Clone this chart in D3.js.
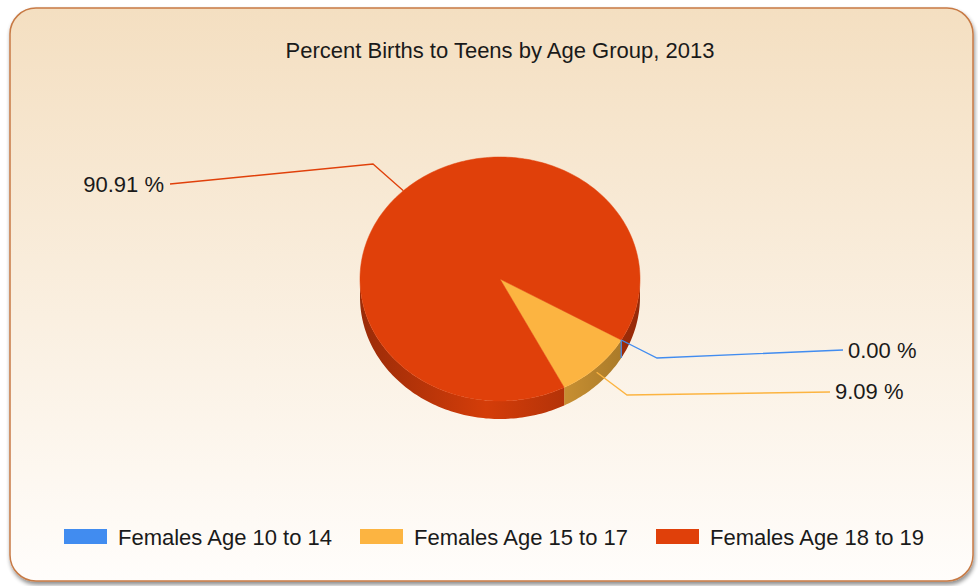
<!DOCTYPE html>
<html>
<head>
<meta charset="utf-8">
<script src="https://cdn.jsdelivr.net/npm/d3@7"></script>
<style>
  body { margin: 0; background: #fff; }
  text { font-family: "Liberation Sans", Arial, sans-serif; fill: #1a1a1a; }
</style>
</head>
<body>
<svg width="978" height="586"></svg>
<script>
// data
const categories = ["Females Age 10 to 14", "Females Age 15 to 17", "Females Age 18 to 19"];
const values = [0.00, 9.09, 90.91];
const labels = ["0.00 %", "9.09 %", "90.91 %"];
const colors = ["#418cf0", "#fcb441", "#e0400a"];
const sideColors = ["#2f6cc0", "#c8902f", "#b8330a"];

const svg = d3.select("svg");
const title = "Percent Births to Teens by Age Group, 2013";

// pie geometry
const cx = 500, cy = 279, rx = 140, ry = 122, depth = 18;
const startAngle = 120 * Math.PI / 180; // d3 angle (clockwise from 12 o'clock)

// label layout: elbow point and label anchor for each slice
const labelLayout = [
  {elbow: [657, 358], end: [843, 350], tx: 848, anchor: "start", dy: 8},
  {elbow: [627, 395], end: [830, 392], tx: 835, anchor: "start", dy: 7},
  {elbow: [373, 164], end: [170, 184], tx: 164, anchor: "end", dy: 8}
];

const defs = svg.append("defs");

// background gradient
const bg = defs.append("linearGradient").attr("id", "bg")
  .attr("x1", 0).attr("y1", 0).attr("x2", 0).attr("y2", 1);
bg.append("stop").attr("offset", "0%").attr("stop-color", "#f4dfc1");
bg.append("stop").attr("offset", "100%").attr("stop-color", "#fffdfb");

const shadow = defs.append("filter").attr("id", "shadow")
  .attr("x", "-5%").attr("y", "-5%").attr("width", "110%").attr("height", "110%");
shadow.append("feGaussianBlur").attr("in", "SourceAlpha").attr("stdDeviation", 2);
shadow.append("feOffset").attr("dx", 1).attr("dy", 3).attr("result", "b");
shadow.append("feComponentTransfer").append("feFuncA").attr("type", "linear").attr("slope", 0.45);
const merge = shadow.append("feMerge");
merge.append("feMergeNode");
merge.append("feMergeNode").attr("in", "SourceGraphic");

// side gradients per slice
sideColors.forEach((c, i) => {
  const g = defs.append("linearGradient").attr("id", "side" + i)
    .attr("gradientUnits", "userSpaceOnUse")
    .attr("x1", cx - rx).attr("y1", 0).attr("x2", cx + rx).attr("y2", 0);
  g.append("stop").attr("offset", "0%").attr("stop-color", d3.color(c).darker(0.5));
  g.append("stop").attr("offset", "45%").attr("stop-color", d3.color(colors[i]).darker(0.15));
  g.append("stop").attr("offset", "100%").attr("stop-color", d3.color(c).darker(0.6));
});

// frame
svg.append("rect")
  .attr("x", 10).attr("y", 8).attr("width", 963).attr("height", 573)
  .attr("rx", 26).attr("ry", 26)
  .attr("fill", "url(#bg)")
  .attr("stroke", "#c77a45").attr("stroke-width", 1.5)
  .attr("filter", "url(#shadow)");

svg.append("text")
  .attr("x", 500).attr("y", 58)
  .attr("text-anchor", "middle")
  .style("font-size", "22px")
  .text(title);

const pie = d3.pie().sort(null).value(d => d)
  .startAngle(startAngle).endAngle(startAngle + 2 * Math.PI);
const arcs = pie(values);

const px = a => cx + rx * Math.sin(a);
const py = a => cy - ry * Math.cos(a);

function ellipseArc(a0, a1, dy) {
  // sampled elliptical arc from a0 to a1
  const n = Math.max(2, Math.ceil(Math.abs(a1 - a0) / 0.02));
  return d3.range(n + 1).map(k => {
    const a = a0 + (a1 - a0) * k / n;
    return [px(a), py(a) + dy];
  });
}

const line = d3.line();

// sides: front half of the ellipse is d3 angles 90..270 deg
const front0 = Math.PI / 2, front1 = 3 * Math.PI / 2;
arcs.forEach((d, i) => {
  const segs = [];
  [0, 2 * Math.PI].forEach(off => {
    const a0 = Math.max(d.startAngle, front0 + off);
    const a1 = Math.min(d.endAngle, front1 + off);
    if (a1 > a0) segs.push([a0, a1]);
  });
  segs.forEach(([a0, a1]) => {
    const top = ellipseArc(a0, a1, 0);
    const bottom = ellipseArc(a1, a0, depth);
    svg.append("path")
      .attr("d", line(top.concat(bottom)) + "Z")
      .attr("fill", "url(#side" + i + ")");
  });
});

// top faces
arcs.forEach((d, i) => {
  if (d.endAngle - d.startAngle <= 0) return;
  const pts = [[cx, cy]].concat(ellipseArc(d.startAngle, d.endAngle, 0));
  svg.append("path")
    .attr("d", line(pts) + "Z")
    .attr("fill", colors[i])
    .attr("stroke", colors[i]).attr("stroke-width", 0.5);
});

// zero-width blue slice edge
arcs.forEach((d, i) => {
  if (d.endAngle - d.startAngle > 0) return;
  const a = d.startAngle;
  svg.append("line")
    .attr("x1", px(a)).attr("y1", py(a))
    .attr("x2", px(a)).attr("y2", py(a) + depth)
    .attr("stroke", colors[i]).attr("stroke-width", 1.2);
});

// leader lines and labels
arcs.forEach((d, i) => {
  const mid = (d.startAngle + d.endAngle) / 2;
  const L = labelLayout[i];
  let sx = px(mid), sy = py(mid);
  if (i === 1) sy += 5;
  svg.append("path")
    .attr("d", line([[sx, sy], L.elbow, L.end]))
    .attr("fill", "none")
    .attr("stroke", colors[i]).attr("stroke-width", 1.3);
  svg.append("text")
    .attr("x", L.tx).attr("y", L.end[1] + L.dy)
    .attr("text-anchor", L.anchor)
    .style("font-size", "22px")
    .text(labels[i]);
});

// legend
const legendX = [64, 360, 656];
const legend = svg.append("g");
categories.forEach((c, i) => {
  legend.append("rect")
    .attr("x", legendX[i]).attr("y", 529).attr("width", 43).attr("height", 15)
    .attr("fill", colors[i]);
  legend.append("text")
    .attr("x", legendX[i] + 54).attr("y", 545)
    .style("font-size", "22px")
    .text(c);
});
</script>
</body>
</html>
